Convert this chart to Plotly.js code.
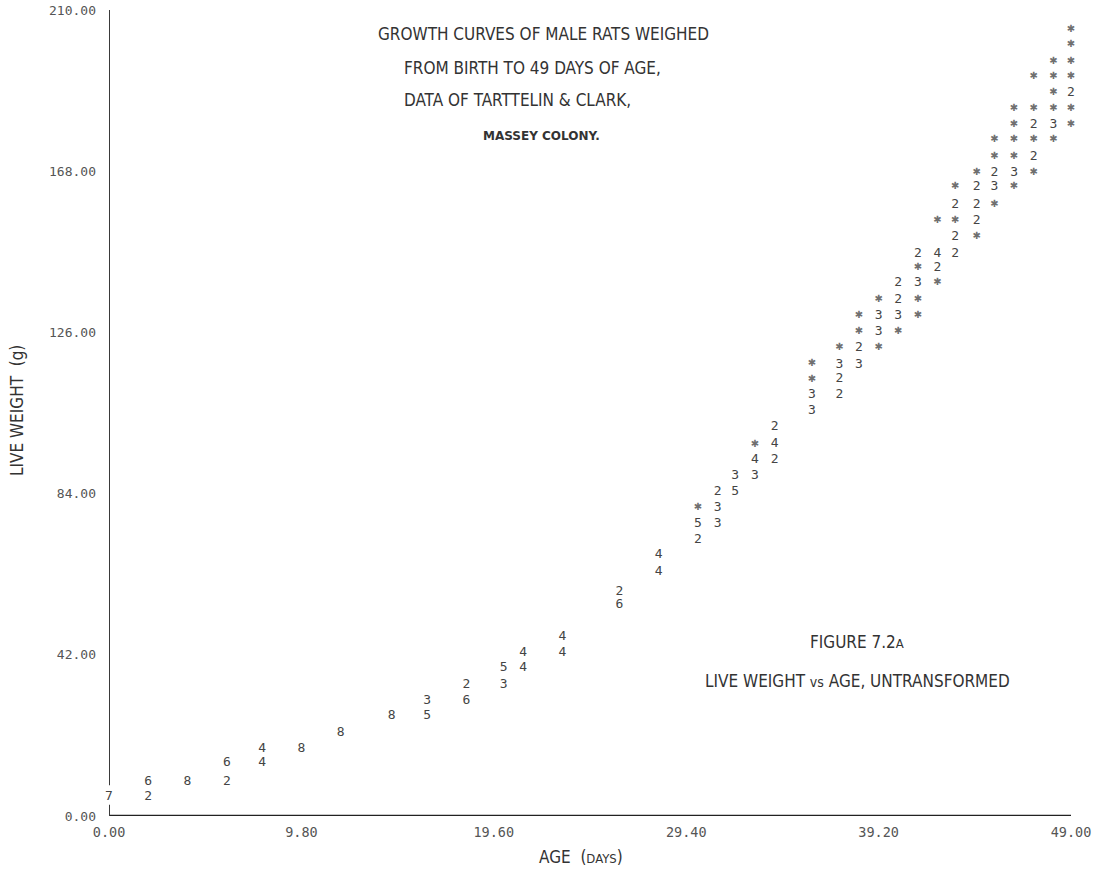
<!DOCTYPE html>
<html>
<head>
<meta charset="utf-8">
<script src="https://cdn.plot.ly/plotly-3.0.1.min.js"></script>
<style>
  html, body { margin: 0; padding: 0; background: #ffffff; }
  #chart { width: 1103px; height: 872px; }
</style>
</head>
<body>
<div id="chart"></div>
<script>
// Line-printer plot cells: age (days), live weight (g) and the number of rats
// that fall in the same print cell (1 is printed as an asterisk).
const ages = [
  0,
  2, 2,
  4,
  6, 6,
  7.8, 7.8,
  9.8,
  11.8,
  14.4,
  16.2, 16.2,
  18.2, 18.2,
  20.1, 20.1,
  21.1, 21.1,
  23.1, 23.1,
  26.0, 26.0,
  28.0, 28.0,
  30.0, 30.0, 30.0,
  31.0, 31.0, 31.0,
  31.9, 31.9,
  32.9, 32.9, 32.9,
  33.9, 33.9, 33.9,
  35.8, 35.8, 35.8, 35.8,
  37.2, 37.2, 37.2, 37.2,
  38.2, 38.2, 38.2, 38.2,
  39.2, 39.2, 39.2, 39.2,
  40.2, 40.2, 40.2, 40.2,
  41.2, 41.2, 41.2, 41.2, 41.2,
  42.2, 42.2, 42.2, 42.2,
  43.1, 43.1, 43.1, 43.1, 43.1,
  44.2, 44.2, 44.2, 44.2, 44.2,
  45.1, 45.1, 45.1, 45.1, 45.1,
  46.1, 46.1, 46.1, 46.1, 46.1, 46.1,
  47.1, 47.1, 47.1, 47.1, 47.1, 47.1,
  48.1, 48.1, 48.1, 48.1, 48.1, 48.1,
  49.0, 49.0, 49.0, 49.0, 49.0, 49.0, 49.0
];

const weights = [
  4.9,
  8.8, 4.9,
  8.8,
  13.8, 8.8,
  17.4, 13.8,
  17.4,
  21.8,
  26.0,
  30.1, 26.0,
  34.3, 30.1,
  38.5, 34.3,
  42.6, 38.5,
  46.8, 42.6,
  58.5, 55.1,
  68.1, 63.7,
  80.3, 76.1, 72.0,
  84.5, 80.3, 76.1,
  88.6, 84.5,
  96.9, 92.8, 88.6,
  101.4, 96.9, 92.8,
  118.0, 113.8, 109.8, 105.5,
  122.1, 117.7, 113.8, 109.8,
  130.4, 126.3, 122.1, 117.7,
  134.5, 130.4, 126.3, 122.1,
  138.9, 134.5, 130.4, 126.3,
  146.6, 142.8, 138.9, 134.5, 130.4,
  155.1, 146.6, 142.8, 138.9,
  164.0, 159.3, 155.1, 151.0, 146.6,
  167.6, 164.0, 159.3, 155.1, 151.0,
  176.2, 171.8, 167.6, 164.0, 159.3,
  184.3, 180.1, 176.2, 171.8, 167.6, 164.0,
  192.6, 184.3, 180.1, 176.2, 171.8, 167.6,
  196.7, 192.6, 188.4, 184.3, 180.1, 176.2,
  205.0, 200.9, 196.7, 192.6, 188.4, 184.3, 180.1
];

const counts = [
  7,
  6, 2,
  8,
  6, 2,
  4, 4,
  8,
  8,
  8,
  3, 5,
  2, 6,
  5, 3,
  4, 4,
  4, 4,
  2, 6,
  4, 4,
  1, 5, 2,
  2, 3, 3,
  3, 5,
  1, 4, 3,
  2, 4, 2,
  1, 1, 3, 3,
  1, 3, 2, 2,
  1, 1, 2, 3,
  1, 3, 3, 1,
  2, 2, 3, 1,
  2, 1, 3, 1, 1,
  1, 4, 2, 1,
  1, 2, 1, 2, 2,
  1, 2, 2, 2, 1,
  1, 1, 2, 3, 1,
  1, 1, 1, 1, 3, 1,
  1, 1, 2, 1, 2, 1,
  1, 1, 1, 1, 3, 1,
  1, 1, 1, 1, 2, 1, 1
];

// Axis tick values and their printed labels
const xTickVals = [0, 9.8, 19.6, 29.4, 39.2, 49.0];
const xTickText = ['0.00', '9.80', '19.60', '29.40', '39.20', '49.00'];
const yTickVals = [0, 42, 84, 126, 168, 210];
const yTickText = ['0.00', '42.00', '84.00', '126.00', '168.00', '210.00'];

const typeFont = 'DejaVu Sans Condensed, Liberation Sans Narrow, DejaVu Sans, sans-serif';
const printFont = 'DejaVu Sans Mono, Liberation Mono, monospace';

// Cells holding several rats print their count; single rats print a star.
function cellTrace(keep, glyphOf, font) {
  const idx = counts.map((n, i) => i).filter(i => keep(counts[i]));
  return {
    type: 'scatter',
    mode: 'text',
    x: idx.map(i => ages[i]),
    y: idx.map(i => weights[i]),
    text: idx.map(i => glyphOf(counts[i])),
    textposition: 'middle center',
    textfont: font,
    cliponaxis: false,
    hoverinfo: 'x+y',
    showlegend: false
  };
}

const countCells = cellTrace(n => n > 1, n => String(n),
  { family: printFont, size: 13, color: '#444444' });
const singleCells = cellTrace(n => n === 1, () => '\u2731',
  { family: 'DejaVu Sans, sans-serif', size: 10, color: '#707070' });

const axisLine = { color: '#3a3a3a', width: 2 };

const layout = {
  width: 1103,
  height: 872,
  margin: { l: 109, r: 32, t: 10, b: 56 },
  paper_bgcolor: '#ffffff',
  plot_bgcolor: '#ffffff',
  showlegend: false,
  xaxis: {
    range: [0, 49],
    showgrid: false,
    zeroline: false,
    showline: false,
    tickmode: 'array',
    tickvals: xTickVals,
    ticktext: xTickText,
    ticks: '',
    ticklabelstandoff: 6,
    tickfont: { family: printFont, size: 13.5, color: '#555555' },
    fixedrange: true
  },
  yaxis: {
    range: [0, 210],
    showgrid: false,
    zeroline: false,
    showline: false,
    tickmode: 'array',
    tickvals: yTickVals,
    ticktext: yTickText,
    ticks: '',
    ticklabelstandoff: 12,
    tickfont: { family: printFont, size: 13, color: '#555555' },
    fixedrange: true
  },
  shapes: [
    // horizontal axis
    { type: 'line', xref: 'x', yref: 'y', x0: 0, x1: 49, y0: 0, y1: 0,
      line: { color: '#222222', width: 2.5 } },
    // vertical axis, broken where the first cell is printed
    { type: 'line', xref: 'x', yref: 'y', x0: 0, x1: 0, y0: 8, y1: 210,
      line: axisLine },
    { type: 'line', xref: 'x', yref: 'y', x0: 0, x1: 0, y0: 0, y1: 2.9,
      line: axisLine }
  ],
  annotations: [
    { text: 'GROWTH CURVES OF MALE RATS WEIGHED', xref: 'paper', yref: 'paper',
      x: 0.2775, y: 0.970, xanchor: 'left', yanchor: 'middle', showarrow: false,
      font: { family: typeFont, size: 17, color: '#333333' } },
    { text: 'FROM BIRTH TO 49 DAYS OF AGE,', xref: 'paper', yref: 'paper',
      x: 0.3046, y: 0.928, xanchor: 'left', yanchor: 'middle', showarrow: false,
      font: { family: typeFont, size: 17, color: '#333333' } },
    { text: 'DATA OF TARTTELIN &amp; CLARK,', xref: 'paper', yref: 'paper',
      x: 0.3046, y: 0.8886, xanchor: 'left', yanchor: 'middle', showarrow: false,
      font: { family: typeFont, size: 17, color: '#333333' } },
    { text: '<b>MASSEY COLONY.</b>', xref: 'paper', yref: 'paper',
      x: 0.3867, y: 0.844, xanchor: 'left', yanchor: 'middle', showarrow: false,
      font: { family: 'DejaVu Sans, sans-serif', size: 12, color: '#333333' } },
    { text: 'FIGURE 7.2<span style="font-size:13px">A</span>', xref: 'paper', yref: 'paper',
      x: 0.7266, y: 0.2153, xanchor: 'left', yanchor: 'middle', showarrow: false,
      font: { family: typeFont, size: 17, color: '#333333' } },
    { text: 'LIVE WEIGHT <span style="font-size:14px">vs</span> AGE, UNTRANSFORMED', xref: 'paper', yref: 'paper',
      x: 0.6175, y: 0.1671, xanchor: 'left', yanchor: 'middle', showarrow: false,
      font: { family: typeFont, size: 17, color: '#333333' } },
    // axis titles
    { text: 'AGE  (<span style="font-size:13px">DAYS</span>)', xref: 'paper', yref: 'paper',
      x: 0.491, y: -0.0507, xanchor: 'center', yanchor: 'middle', showarrow: false,
      font: { family: typeFont, size: 17, color: '#333333' } },
    { text: 'LIVE WEIGHT  (g)', xref: 'paper', yref: 'paper', textangle: -90,
      x: -0.0956, y: 0.5025, xanchor: 'center', yanchor: 'middle', showarrow: false,
      font: { family: typeFont, size: 17, color: '#333333' } }
  ]
};

Plotly.newPlot('chart', [countCells, singleCells], layout, { displayModeBar: false, staticPlot: true });
</script>
</body>
</html>
